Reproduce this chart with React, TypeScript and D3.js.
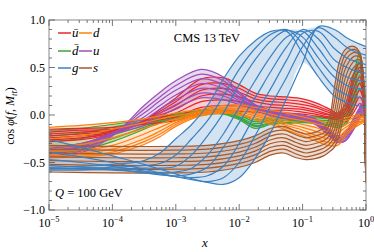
import React, { useEffect, useRef } from 'react';
import * as d3 from 'd3';

// log10(x) sample points for each family
const gluonGrid = [-5, -4.5, -4, -3.5, -3.25, -3, -2.75, -2.5, -2.25, -2, -1.75, -1.5, -1.25, -1, -0.75, -0.5, -0.3, -0.15, 0];
const strangeGrid = [-5, -4, -3, -2.5, -2, -1.75, -1.5, -1.3, -1.1, -0.95, -0.8, -0.67, -0.58, -0.5, -0.42, -0.34, -0.26, -0.18, -0.1, -0.05, -0.025, -0.01, 0];
const quarkGrid = [-5, -4.5, -4, -3.5, -3.25, -3, -2.6, -2.25, -2, -1.75, -1.5, -1.25, -1, -0.8, -0.6, -0.45, -0.32, -0.2, -0.1, -0.04, 0];

const gluon = [
  [-0.55, -0.54, -0.52, -0.48, -0.40, -0.25, -0.10, 0.10, 0.38, 0.62, 0.78, 0.88, 0.88, 0.65, 0.40, 0.20, 0.13, 0.10, 0.08],
  [-0.57, -0.56, -0.55, -0.53, -0.51, -0.42, -0.25, -0.06, 0.20, 0.48, 0.70, 0.85, 0.90, 0.75, 0.50, 0.29, 0.21, 0.19, 0.17],
  [-0.58, -0.58, -0.57, -0.56, -0.56, -0.54, -0.42, -0.22, 0.02, 0.32, 0.58, 0.78, 0.89, 0.82, 0.60, 0.40, 0.31, 0.28, 0.26],
  [-0.56, -0.57, -0.58, -0.60, -0.61, -0.60, -0.56, -0.42, -0.20, 0.08, 0.36, 0.62, 0.82, 0.88, 0.70, 0.48, 0.40, 0.37, 0.35],
  [-0.53, -0.55, -0.57, -0.61, -0.63, -0.64, -0.62, -0.55, -0.34, -0.08, 0.18, 0.46, 0.72, 0.90, 0.80, 0.58, 0.50, 0.46, 0.44],
  [-0.47, -0.50, -0.54, -0.59, -0.62, -0.65, -0.66, -0.64, -0.54, -0.30, 0.00, 0.28, 0.58, 0.86, 0.88, 0.70, 0.60, 0.56, 0.53],
  [-0.39, -0.44, -0.50, -0.57, -0.61, -0.65, -0.68, -0.70, -0.66, -0.50, -0.22, 0.10, 0.40, 0.72, 0.92, 0.82, 0.71, 0.66, 0.63],
  [-0.26, -0.34, -0.43, -0.52, -0.57, -0.62, -0.67, -0.71, -0.73, -0.66, -0.46, -0.18, 0.18, 0.55, 0.93, 0.90, 0.81, 0.76, 0.72],
];

const strange = [
  [-0.32, -0.33, -0.33, -0.32, -0.27, -0.22, -0.14, -0.12, -0.17, -0.20, -0.18, -0.14, -0.04, 0.28, 0.56, 0.68, 0.72, 0.72, 0.66, 0.45, 0.00, -0.45, -0.62],
  [-0.36, -0.37, -0.37, -0.36, -0.31, -0.26, -0.18, -0.16, -0.21, -0.24, -0.22, -0.19, -0.11, 0.14, 0.45, 0.62, 0.68, 0.69, 0.65, 0.46, 0.02, -0.45, -0.63],
  [-0.40, -0.41, -0.41, -0.40, -0.35, -0.30, -0.22, -0.20, -0.25, -0.28, -0.26, -0.23, -0.17, 0.02, 0.33, 0.55, 0.63, 0.66, 0.63, 0.46, 0.04, -0.46, -0.65],
  [-0.44, -0.45, -0.45, -0.44, -0.39, -0.34, -0.26, -0.24, -0.29, -0.32, -0.30, -0.27, -0.22, -0.08, 0.20, 0.46, 0.57, 0.62, 0.61, 0.46, 0.06, -0.47, -0.66],
  [-0.48, -0.49, -0.49, -0.48, -0.43, -0.38, -0.30, -0.28, -0.33, -0.36, -0.34, -0.31, -0.27, -0.16, 0.08, 0.36, 0.50, 0.57, 0.58, 0.45, 0.08, -0.48, -0.68],
  [-0.52, -0.53, -0.53, -0.52, -0.47, -0.42, -0.34, -0.32, -0.37, -0.40, -0.38, -0.35, -0.31, -0.23, -0.03, 0.25, 0.42, 0.51, 0.54, 0.44, 0.10, -0.49, -0.69],
  [-0.56, -0.57, -0.57, -0.56, -0.51, -0.46, -0.38, -0.36, -0.41, -0.44, -0.42, -0.39, -0.35, -0.29, -0.13, 0.14, 0.34, 0.45, 0.50, 0.42, 0.11, -0.50, -0.70],
  [-0.60, -0.61, -0.61, -0.60, -0.55, -0.50, -0.42, -0.40, -0.45, -0.47, -0.46, -0.43, -0.39, -0.34, -0.21, 0.03, 0.26, 0.39, 0.45, 0.40, 0.12, -0.51, -0.72],
];

const ubar = [
  [-0.28, -0.26, -0.20, -0.06, 0.06, 0.18, 0.38, 0.39, 0.32, 0.23, 0.20, 0.19, 0.17, 0.13, 0.07, 0.02, 0.12, 0.42, 0.55, 0.32, 0.12],
  [-0.26, -0.24, -0.19, -0.06, 0.04, 0.14, 0.32, 0.33, 0.28, 0.20, 0.17, 0.16, 0.14, 0.10, 0.05, 0.01, 0.08, 0.34, 0.47, 0.28, 0.10],
  [-0.24, -0.22, -0.18, -0.06, 0.02, 0.10, 0.26, 0.28, 0.24, 0.17, 0.14, 0.13, 0.11, 0.08, 0.03, 0.00, 0.05, 0.27, 0.40, 0.24, 0.08],
  [-0.22, -0.20, -0.17, -0.07, 0.00, 0.06, 0.20, 0.22, 0.19, 0.14, 0.11, 0.10, 0.08, 0.05, 0.01, -0.01, 0.02, 0.20, 0.33, 0.20, 0.07],
  [-0.20, -0.18, -0.16, -0.08, -0.03, 0.02, 0.14, 0.16, 0.14, 0.10, 0.08, 0.07, 0.06, 0.03, 0.00, -0.02, -0.01, 0.13, 0.26, 0.16, 0.05],
  [-0.18, -0.16, -0.15, -0.09, -0.05, -0.02, 0.08, 0.10, 0.09, 0.07, 0.05, 0.05, 0.03, 0.01, -0.02, -0.03, -0.04, 0.07, 0.19, 0.12, 0.04],
  [-0.15, -0.14, -0.13, -0.10, -0.08, -0.06, 0.02, 0.04, 0.04, 0.03, 0.02, 0.02, 0.01, -0.01, -0.03, -0.05, -0.07, 0.02, 0.12, 0.08, 0.02],
];

const uq = [
  [-0.45, -0.40, -0.22, 0.10, 0.24, 0.36, 0.48, 0.40, 0.24, 0.11, 0.05, 0.02, 0.00, -0.04, -0.14, -0.22, -0.18, -0.04, 0.08, 0.14, 0.17],
  [-0.43, -0.38, -0.21, 0.06, 0.19, 0.31, 0.43, 0.36, 0.22, 0.10, 0.04, 0.01, -0.01, -0.05, -0.16, -0.24, -0.20, -0.06, 0.06, 0.12, 0.15],
  [-0.41, -0.36, -0.20, 0.02, 0.15, 0.26, 0.38, 0.32, 0.19, 0.09, 0.03, 0.00, -0.02, -0.06, -0.17, -0.25, -0.22, -0.08, 0.04, 0.10, 0.12],
  [-0.39, -0.34, -0.19, -0.02, 0.10, 0.21, 0.33, 0.28, 0.17, 0.08, 0.02, -0.01, -0.03, -0.07, -0.18, -0.26, -0.23, -0.10, 0.02, 0.08, 0.10],
  [-0.37, -0.33, -0.19, -0.05, 0.06, 0.16, 0.28, 0.24, 0.15, 0.07, 0.01, -0.02, -0.04, -0.08, -0.19, -0.27, -0.24, -0.12, 0.00, 0.06, 0.08],
  [-0.35, -0.31, -0.19, -0.08, 0.02, 0.11, 0.23, 0.20, 0.13, 0.06, 0.00, -0.03, -0.05, -0.09, -0.20, -0.28, -0.26, -0.14, -0.02, 0.04, 0.06],
  [-0.33, -0.30, -0.20, -0.11, -0.02, 0.07, 0.18, 0.16, 0.11, 0.05, -0.01, -0.04, -0.06, -0.10, -0.21, -0.29, -0.27, -0.16, -0.04, 0.02, 0.04],
];

const dq = [
  [-0.13, -0.11, -0.08, -0.04, -0.01, 0.02, 0.06, 0.10, 0.11, 0.08, 0.05, 0.02, -0.02, -0.05, -0.08, -0.06, -0.03, -0.01, 0.01, 0.00, -0.01],
  [-0.25, -0.22, -0.15, -0.08, -0.04, -0.01, 0.04, 0.08, 0.09, 0.05, 0.01, -0.03, -0.06, -0.09, -0.12, -0.10, -0.06, -0.03, -0.01, -0.02, -0.03],
  [-0.33, -0.31, -0.24, -0.14, -0.09, -0.04, 0.03, 0.06, 0.07, 0.03, -0.02, -0.06, -0.10, -0.13, -0.17, -0.15, -0.10, -0.06, -0.03, -0.03, -0.04],
  [-0.38, -0.37, -0.32, -0.20, -0.13, -0.06, 0.02, 0.05, 0.05, 0.01, -0.04, -0.09, -0.13, -0.17, -0.21, -0.19, -0.13, -0.08, -0.05, -0.05, -0.06],
  [-0.41, -0.40, -0.36, -0.25, -0.17, -0.08, 0.01, 0.04, 0.03, -0.01, -0.06, -0.11, -0.16, -0.21, -0.25, -0.24, -0.16, -0.10, -0.07, -0.06, -0.07],
  [-0.43, -0.42, -0.39, -0.28, -0.20, -0.10, 0.00, 0.03, 0.01, -0.03, -0.08, -0.14, -0.19, -0.24, -0.29, -0.28, -0.19, -0.12, -0.08, -0.07, -0.08],
  [-0.45, -0.44, -0.41, -0.31, -0.23, -0.12, -0.01, 0.02, 0.00, -0.05, -0.10, -0.16, -0.22, -0.27, -0.32, -0.32, -0.22, -0.14, -0.10, -0.08, -0.09],
];

const dbar = [
  [-0.16, -0.14, -0.10, -0.05, -0.02, 0.01, 0.05, 0.06, 0.02, -0.05, -0.03, -0.02, -0.02, -0.02, -0.02, -0.03, 0.05, 0.40, 0.66, 0.40, 0.10],
  [-0.22, -0.19, -0.13, -0.07, -0.03, 0.00, 0.04, 0.05, 0.00, -0.07, -0.05, -0.03, -0.03, -0.03, -0.04, -0.05, 0.01, 0.32, 0.58, 0.35, 0.08],
  [-0.28, -0.25, -0.17, -0.09, -0.05, -0.01, 0.03, 0.04, -0.02, -0.09, -0.06, -0.05, -0.04, -0.05, -0.06, -0.07, -0.03, 0.25, 0.50, 0.30, 0.06],
  [-0.33, -0.30, -0.21, -0.11, -0.06, -0.02, 0.02, 0.03, -0.03, -0.11, -0.08, -0.06, -0.06, -0.06, -0.08, -0.09, -0.06, 0.18, 0.42, 0.25, 0.04],
  [-0.37, -0.34, -0.25, -0.13, -0.07, -0.03, 0.01, 0.02, -0.04, -0.12, -0.09, -0.08, -0.07, -0.08, -0.10, -0.11, -0.08, 0.12, 0.35, 0.20, 0.02],
  [-0.40, -0.37, -0.28, -0.15, -0.08, -0.04, 0.00, 0.01, -0.05, -0.14, -0.10, -0.09, -0.08, -0.09, -0.11, -0.13, -0.10, 0.06, 0.28, 0.15, 0.00],
];

const legendLabels = [['ū', 'd'], ['d\u0304', 'u'], ['g', 's']];
const xTickExp = ['−5', '−4', '−3', '−2', '−1', '0'];
const yTickLabels = ['−1.0', '−0.5', '0.0', '0.5', '1.0'];

const colors = {
  ubar: '#e6262c', d: '#ff7f0e', dbar: '#3aa63a', u: '#9b4fb8', g: '#3b80c0', s: '#a5592e',
};

const App = () => {
  const ref = useRef(null);
  useEffect(() => {
    draw(ref.current);
  }, []);
  return <svg ref={ref} width={374} height={252} style={{ position: 'absolute', left: 0, top: 0 }} />;
};

const draw = (node) => {
  const svg = d3.select(node);
  svg.selectAll('*').remove();

  const left = 49, right = 366, top = 20, bottom = 210;
  const x = d3.scaleLog().domain([1e-5, 1]).range([left, right]);
  const y = d3.scaleLinear().domain([-1, 1]).range([bottom, top]);
  const font = "'Liberation Serif', 'DejaVu Serif', serif";

  svg.append('defs').append('clipPath').attr('id', 'plot')
    .append('rect').attr('x', left).attr('y', top).attr('width', right - left).attr('height', bottom - top);

  const fams = [
    { grid: gluonGrid, curves: gluon, color: colors.g },
    { grid: strangeGrid, curves: strange, color: colors.s },
    { grid: quarkGrid, curves: ubar, color: colors.ubar },
    { grid: quarkGrid, curves: uq, color: colors.u },
    { grid: quarkGrid, curves: dq, color: colors.d },
    { grid: quarkGrid, curves: dbar, color: colors.dbar },
  ];
  const curve = d3.curveCatmullRom.alpha(0.5);

  const plot = svg.append('g').attr('clip-path', 'url(#plot)');

  // bands
  fams.forEach(f => {
    const band = f.grid.map((lx, i) => ({
      lx,
      lo: d3.min(f.curves, c => c[i]),
      hi: d3.max(f.curves, c => c[i]),
    }));
    const area = d3.area()
      .x(d => x(Math.pow(10, d.lx)))
      .y0(d => y(d.lo))
      .y1(d => y(d.hi))
      .curve(curve);
    plot.append('path').datum(band)
      .attr('d', area)
      .attr('fill', f.color)
      .attr('fill-opacity', 0.22);
  });

  // lines, drawn in this order
  const lineOrder = [fams[5], fams[2], fams[3], fams[4], fams[1], fams[0]];
  lineOrder.forEach(f => {
    const line = d3.line()
      .x((d, i) => x(Math.pow(10, f.grid[i])))
      .y(d => y(d))
      .curve(curve);
    f.curves.forEach(c => {
      plot.append('path').datum(c)
        .attr('d', line)
        .attr('fill', 'none')
        .attr('stroke', f.color)
        .attr('stroke-width', 1.2);
    });
  });

  // frame
  svg.append('rect')
    .attr('x', left).attr('y', top)
    .attr('width', right - left).attr('height', bottom - top)
    .attr('fill', 'none').attr('stroke', '#8a8a8a').attr('stroke-width', 1);

  // ticks
  const tk = svg.append('g').attr('stroke', '#555').attr('stroke-width', 0.8);
  for (let e = -5; e <= 0; e++) {
    const px = x(Math.pow(10, e));
    tk.append('line').attr('x1', px).attr('x2', px).attr('y1', bottom).attr('y2', bottom - 6);
    tk.append('line').attr('x1', px).attr('x2', px).attr('y1', top).attr('y2', top + 6);
    if (e < 0) {
      for (let k = 2; k <= 9; k++) {
        const mx = x(k * Math.pow(10, e));
        tk.append('line').attr('x1', mx).attr('x2', mx).attr('y1', bottom).attr('y2', bottom - 3);
        tk.append('line').attr('x1', mx).attr('x2', mx).attr('y1', top).attr('y2', top + 3);
      }
    }
  }
  d3.range(-10, 11).forEach(i => {
    const py = y(i / 10);
    const len = i % 5 === 0 ? 6 : 3;
    tk.append('line').attr('x1', left).attr('x2', left + len).attr('y1', py).attr('y2', py);
    tk.append('line').attr('x1', right).attr('x2', right - len).attr('y1', py).attr('y2', py);
  });

  // tick labels
  xTickExp.forEach((ex, i) => {
    const t = svg.append('text')
      .attr('x', x(Math.pow(10, i - 5)))
      .attr('y', 227)
      .attr('text-anchor', 'middle')
      .attr('font-family', font)
      .attr('font-size', 12);
    t.append('tspan').text('10');
    t.append('tspan').attr('font-size', 8.5).attr('dy', -5).text(ex);
  });
  yTickLabels.forEach((lab, i) => {
    svg.append('text')
      .attr('x', 45)
      .attr('y', y(-1 + i * 0.5) + 4)
      .attr('text-anchor', 'end')
      .attr('font-family', font)
      .attr('font-size', 12)
      .text(lab);
  });

  // axis titles
  svg.append('text')
    .attr('x', 205).attr('y', 247)
    .attr('text-anchor', 'middle')
    .attr('font-family', font).attr('font-size', 13)
    .attr('font-style', 'italic')
    .text('x');

  const yl = svg.append('text')
    .attr('transform', 'translate(14,116) rotate(-90)')
    .attr('text-anchor', 'middle')
    .attr('font-family', font).attr('font-size', 12);
  yl.append('tspan').text('cos ');
  yl.append('tspan').attr('font-style', 'italic').text('φ');
  yl.append('tspan').text('(');
  yl.append('tspan').attr('font-style', 'italic').text('f');
  yl.append('tspan').text(', ');
  yl.append('tspan').attr('font-style', 'italic').text('M');
  yl.append('tspan').attr('font-style', 'italic').attr('font-size', 8.5).attr('dy', 3).text('tt\u0304');
  yl.append('tspan').attr('dy', -3).text(')');

  // annotations
  svg.append('text')
    .attr('x', 207).attr('y', 42)
    .attr('text-anchor', 'middle')
    .attr('font-family', font).attr('font-size', 12.5)
    .text('CMS 13 TeV');

  const q = svg.append('text')
    .attr('x', 55).attr('y', 197)
    .attr('font-family', font).attr('font-size', 12.5);
  q.append('tspan').attr('font-style', 'italic').text('Q');
  q.append('tspan').text(' = 100 GeV');

  // legend
  const legColors = [[colors.ubar, colors.d], [colors.dbar, colors.u], [colors.g, colors.s]];
  const rowY = [33, 51, 68];
  legendLabels.forEach((row, r) => {
    row.forEach((lab, c) => {
      const x0 = c === 0 ? 58 : 79;
      svg.append('line')
        .attr('x1', x0).attr('x2', x0 + 13)
        .attr('y1', rowY[r]).attr('y2', rowY[r])
        .attr('stroke', legColors[r][c]).attr('stroke-width', 1.5);
      svg.append('text')
        .attr('x', x0 + 14).attr('y', rowY[r] + 4)
        .attr('font-family', font).attr('font-size', 13)
        .attr('font-style', 'italic')
        .text(lab);
    });
  });
};

export default App;
